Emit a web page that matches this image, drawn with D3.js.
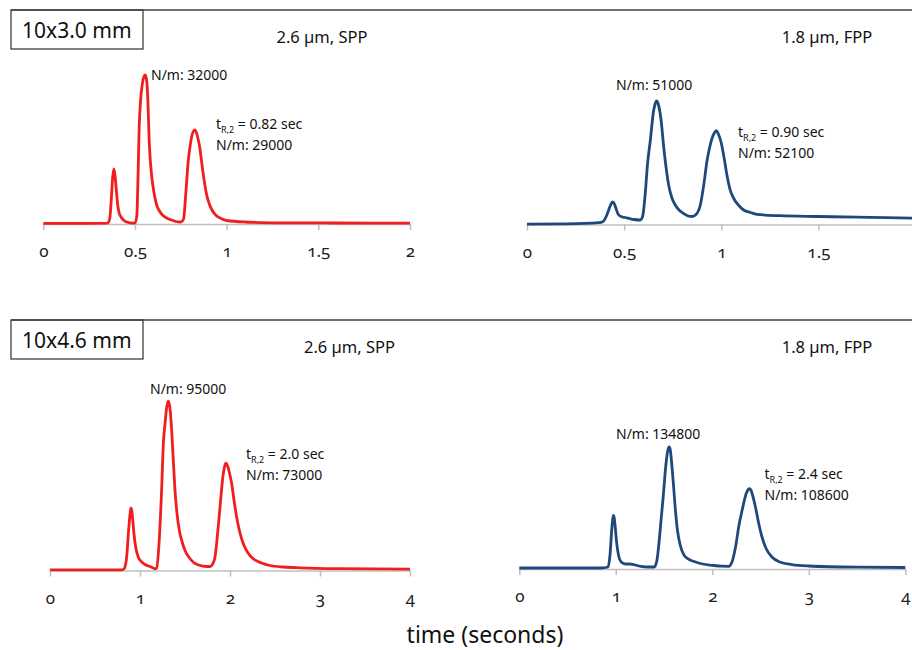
<!DOCTYPE html>
<html>
<head>
<meta charset="utf-8">
<script src="https://cdn.jsdelivr.net/npm/d3@7"></script>
<style>
  body { margin: 0; background: #fff; }
  svg { display: block; font-family: "Noto Sans", "Open Sans", sans-serif; }
  .tick text { font-variant-numeric: oldstyle-nums; }
</style>
</head>
<body>
<div id="chart"></div>
<script>

// Chromatograms (time in seconds, detector signal in arbitrary units)

// 10x3.0 mm column, 2.6 um SPP
const timeA   = [0, 0.2, 0.35, 0.362, 0.37, 0.378, 0.385, 0.392, 0.40, 0.405, 0.414, 0.424, 0.44, 0.46, 0.487,
                 0.50, 0.51, 0.517, 0.523, 0.53, 0.54, 0.548, 0.556, 0.564, 0.57, 0.578, 0.59, 0.605, 0.62, 0.632,
                 0.65, 0.678, 0.70, 0.723, 0.75, 0.765, 0.777, 0.79, 0.80, 0.81, 0.818, 0.826, 0.834, 0.843, 0.853,
                 0.865, 0.877, 0.89, 0.904, 0.92, 0.94, 0.97, 1.0, 1.1, 1.3, 1.6, 2.0];
const signalA = [0.6, 0.6, 0.8, 5, 22, 46, 55, 47, 30, 20, 11, 7, 3.5, 1.7, 0.8,
                 1.2, 8, 50, 97, 122, 140, 147, 149, 143, 125, 81, 50, 30, 18, 13.5,
                 9, 5.5, 4, 2.5, 2, 5, 30, 62, 77, 88, 92.5, 94, 92, 86, 77,
                 60, 44, 30, 20.7, 14, 9, 5.5, 3.5, 2, 1.2, 1, 0.8];

// 10x3.0 mm column, 1.8 um FPP
const timeB   = [0, 0.2, 0.37, 0.39, 0.41, 0.425, 0.434, 0.442, 0.45, 0.458, 0.47, 0.49, 0.505, 0.53, 0.55,
                 0.582, 0.595, 0.608, 0.62, 0.634, 0.651, 0.66, 0.668, 0.676, 0.689, 0.706, 0.729, 0.745, 0.763,
                 0.785, 0.806, 0.83, 0.849, 0.87, 0.892, 0.91, 0.926, 0.94, 0.952, 0.964, 0.974, 0.986, 0.998,
                 1.015, 1.029, 1.045, 1.064, 1.09, 1.115, 1.15, 1.184, 1.3, 1.5, 1.7, 1.85, 2.0];
const signalB = [0.3, 0.6, 1.8, 2.8, 9, 17, 21, 22.5, 20.5, 16, 10, 7.5, 7, 5.8, 5,
                 4.5, 8, 29.5, 60, 83, 113, 121, 123.5, 120, 106, 73, 39.5, 27, 19.5,
                 14, 11, 8.5, 8, 10, 19.5, 40, 63, 77, 86, 91.5, 93.8, 90, 83,
                 66, 49.5, 35, 26, 19, 14.5, 12, 10.2, 8.8, 8, 7.3, 6.8, 6.2];

// 10x4.6 mm column, 2.6 um SPP
const timeC   = [0, 0.8, 0.822, 0.85, 0.875, 0.89, 0.9, 0.91, 0.92, 0.933, 0.955, 0.981, 1.02, 1.056, 1.13,
                 1.167, 1.185, 1.21, 1.24, 1.26, 1.278, 1.298, 1.315, 1.332, 1.352, 1.37, 1.389, 1.41, 1.437,
                 1.47, 1.5, 1.55, 1.593, 1.65, 1.74, 1.78, 1.81, 1.833, 1.86, 1.889, 1.92, 1.94, 1.956, 1.972,
                 1.993, 2.019, 2.045, 2.074, 2.11, 2.148, 2.2, 2.259, 2.35, 2.444, 2.6, 2.778, 3.2, 4.0];
const signalC = [0.7, 0.7, 1.5, 12, 42, 57, 62.7, 59, 50, 36.7, 22, 13.3, 8.5, 6, 3.3,
                 1.7, 2.5, 25, 80, 128, 146.7, 164, 169.3, 163, 140, 110, 80, 58, 40,
                 28, 20, 12.5, 8.3, 5.5, 4, 4, 7, 13.3, 35, 63.3, 93, 104, 107.3, 105,
                 98, 86.7, 70, 53.3, 38, 26.7, 17.5, 11.7, 7.5, 5, 3.5, 2.7, 1.8, 1.3];

// 10x4.6 mm column, 1.8 um FPP
const timeD   = [0, 0.85, 0.92, 0.94, 0.96, 0.97, 0.976, 0.984, 0.992, 1.01, 1.03, 1.056, 1.1, 1.14, 1.175,
                 1.22, 1.261, 1.33, 1.398, 1.425, 1.45, 1.47, 1.491, 1.52, 1.54, 1.553, 1.565, 1.575, 1.594,
                 1.615, 1.639, 1.67, 1.708, 1.76, 1.828, 1.9, 2.0, 2.1, 2.17, 2.2, 2.241, 2.275, 2.309, 2.35,
                 2.372, 2.385, 2.4, 2.42, 2.447, 2.48, 2.515, 2.56, 2.618, 2.7, 2.825, 3.0, 3.5, 4.0];
const signalD = [1, 1, 2, 14, 42, 51, 53.7, 51, 44, 25.4, 13, 7, 5, 5, 4.7,
                 3.5, 2.7, 2, 2, 8, 28.7, 50, 72, 105, 119, 122, 119, 110, 88.7,
                 62, 38.7, 23, 13.7, 9.5, 7, 5, 3.7, 2.8, 2.7, 6, 22, 43, 58.7, 75,
                 79.5, 80.4, 79, 73, 62, 46, 32, 20, 12, 7, 4.4, 3, 1.8, 1.5];

const ticksShort = [0, 0.5, 1, 1.5, 2];
const ticksShortCut = [0, 0.5, 1, 1.5];
const ticksLong = [0, 1, 2, 3, 4];

const columnLabels = ["10x3.0 mm", "10x4.6 mm"];
const phaseLabels = ["2.6 \u00b5m, SPP", "1.8 \u00b5m, FPP"];
const plateMain = ["32000", "51000", "95000", "134800"];
const retention2 = ["0.82", "0.90", "2.0", "2.4"];
const plateSecond = ["29000", "52100", "73000", "108600"];

const width = 912, height = 650;
const red = "#f01e1e", blue = "#1f497d";

// panel layout: x range in px, baseline, where the notes sit
const panels = [
  { time: timeA, signal: signalA, domain: [0, 2], ticks: ticksShort, x: [43.3, 410], base: 224, color: red,
    phase: [322, 43], main: [151, 80], second: [216, 129], row: 0, col: 0 },
  { time: timeB, signal: signalB, domain: [0, 2], ticks: ticksShortCut, x: [527, 915.6], base: 224.5, color: blue,
    phase: [827, 43], main: [616, 89.5], second: [738, 136.5], row: 0, col: 1 },
  { time: timeC, signal: signalC, domain: [0, 4], ticks: ticksLong, x: [50, 410], base: 570.5, color: red,
    phase: [349.5, 353], main: [150, 393.5], second: [246, 458.5], row: 1, col: 0 },
  { time: timeD, signal: signalD, domain: [0, 4], ticks: ticksLong, x: [519.3, 905.3], base: 569, color: blue,
    phase: [827, 353], main: [616, 438.5], second: [764.5, 478.5], row: 1, col: 1 }
];

const svg = d3.select("#chart")
  .append("svg")
  .attr("width", width)
  .attr("height", height)
  .attr("viewBox", [0, 0, width, height]);

// column size boxes + frame line on top of each row
const rowTop = [10, 320];
rowTop.forEach((y, i) => {
  svg.append("line")
    .attr("x1", 11).attr("x2", width)
    .attr("y1", y).attr("y2", y)
    .attr("stroke", "#404040")
    .attr("stroke-width", 1.3);
  svg.append("rect")
    .attr("x", 11).attr("y", y)
    .attr("width", 132).attr("height", 39)
    .attr("fill", "none")
    .attr("stroke", "#404040")
    .attr("stroke-width", 1.3);
  svg.append("text")
    .attr("x", 22).attr("y", y + 28)
    .attr("font-size", "21px")
    .attr("fill", "#111")
    .text(columnLabels[i]);
});

panels.forEach((p, i) => {
  const xScale = d3.scaleLinear().domain(p.domain).range(p.x);
  const yScale = d3.scaleLinear().domain([0, 180]).range([p.base, p.base - 180]);

  // x axis
  const ax = svg.append("g")
    .attr("transform", `translate(0,${p.base})`)
    .call(d3.axisBottom(xScale).tickValues(p.ticks).tickSize(6).tickSizeOuter(0).tickPadding(15)
      .tickFormat(d3.format("~g")));
  ax.select(".domain").attr("stroke", "#bfbfbf").attr("stroke-width", 1.5);
  ax.selectAll(".tick line").attr("stroke", "#bfbfbf").attr("stroke-width", 1.5);
  ax.selectAll(".tick text").attr("font-size", "17px").attr("fill", "#222")
    .attr("font-family", "'Noto Sans', sans-serif");

  // chromatogram trace
  const line = d3.line()
    .x((d, j) => xScale(p.time[j]))
    .y(d => yScale(d))
    .curve(d3.curveMonotoneX);

  svg.append("path")
    .datum(p.signal)
    .attr("d", line)
    .attr("fill", "none")
    .attr("stroke", p.color)
    .attr("stroke-width", 2.8)
    .attr("stroke-linejoin", "round");

  // stationary phase heading
  svg.append("text")
    .attr("x", p.phase[0]).attr("y", p.phase[1])
    .attr("text-anchor", "middle")
    .attr("font-size", "16.5px")
    .attr("fill", "#111")
    .text(phaseLabels[p.col]);

  // plate count of the main peak
  svg.append("text")
    .attr("x", p.main[0]).attr("y", p.main[1])
    .attr("font-size", "14px")
    .attr("fill", "#111")
    .text("N/m: " + plateMain[i]);

  // retention time + plate count of the last peak
  const t = svg.append("text")
    .attr("x", p.second[0]).attr("y", p.second[1])
    .attr("font-size", "14px")
    .attr("fill", "#111");
  t.append("tspan").text("t");
  t.append("tspan").attr("font-size", "9px").attr("dy", 4).text("R,2");
  t.append("tspan").attr("dy", -4).text(" = " + retention2[i] + " sec");

  svg.append("text")
    .attr("x", p.second[0]).attr("y", p.second[1] + 21)
    .attr("font-size", "14px")
    .attr("fill", "#111")
    .text("N/m: " + plateSecond[i]);
});

// shared axis title
svg.append("text")
  .attr("x", 485).attr("y", 643)
  .attr("text-anchor", "middle")
  .attr("font-size", "23px")
  .attr("fill", "#111")
  .text("time (seconds)");

</script>
</body>
</html>
